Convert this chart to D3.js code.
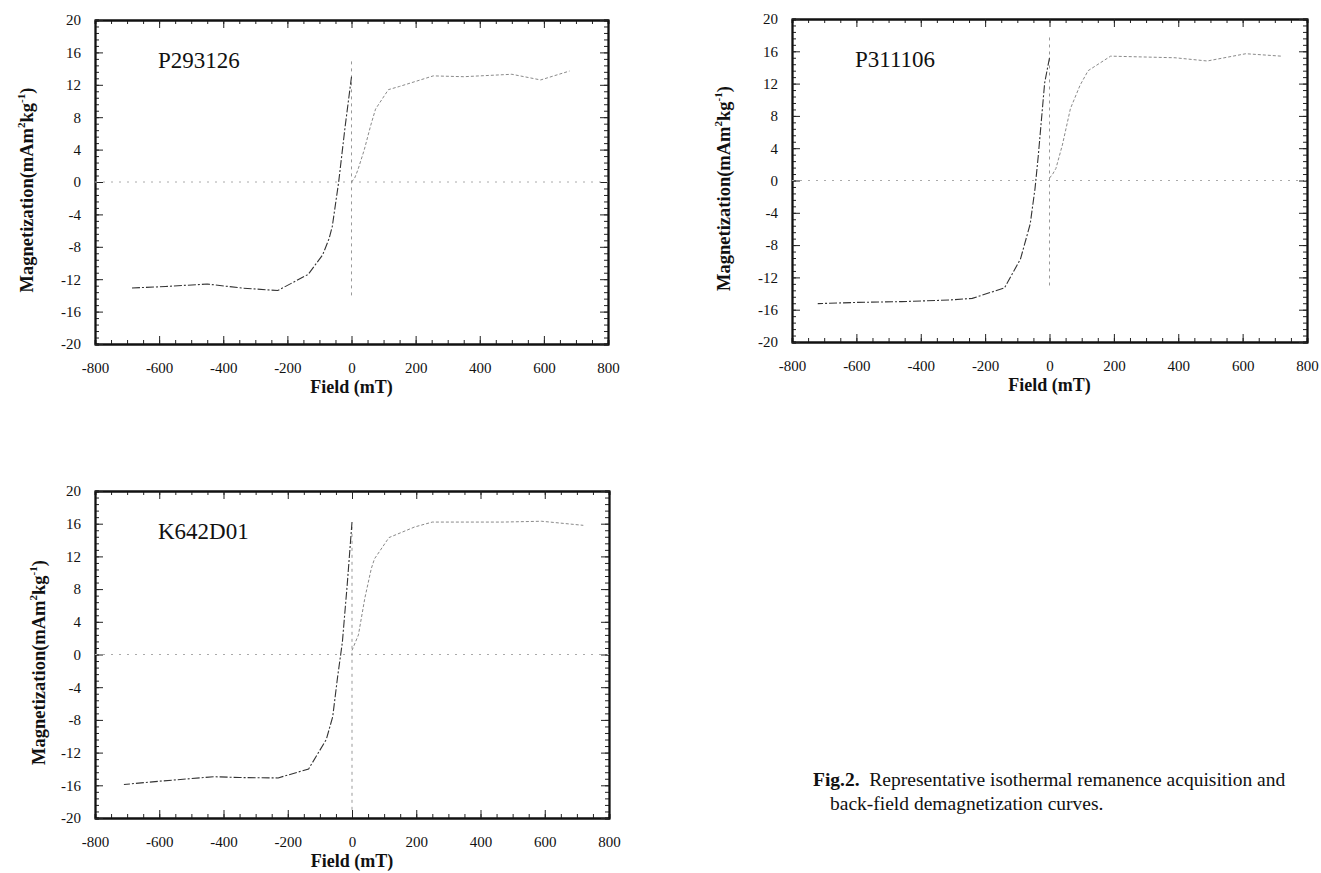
<!DOCTYPE html>
<html>
<head>
<meta charset="utf-8">
<script src="https://cdn.jsdelivr.net/npm/d3@7/dist/d3.min.js"></script>
<style>
  body { margin: 0; background: #fff; }
  svg { display: block; font-family: "Liberation Serif", "Times New Roman", serif; }
</style>
</head>
<body>
<div id="fig"></div>
<script>
var svgWidth = 1321;
var svgHeight = 873;

// axis ticks
var fieldTicks = [-800, -600, -400, -200, 0, 200, 400, 600, 800];
var magTicks = [-20, -16, -12, -8, -4, 0, 4, 8, 12, 16, 20];
var fieldMinorStep = 50;
var magMinorStep = 0.8;

var sampleNames = ["P293126", "P311106", "K642D01"];

// back-field demagnetization curves: [field (mT), magnetization]
var backP293126 = [[0, 13.0], [-20, 6.8], [-40, 0], [-60, -5.5], [-70, -7], [-90, -9], [-135, -11.4],
                   [-230, -13.4], [-340, -13.1], [-450, -12.6], [-580, -12.9], [-690, -13.1]];
var backP311106 = [[0, 15.2], [-15, 12.1], [-35, 3], [-45, -1], [-60, -5.4], [-90, -9.7], [-140, -13.3],
                   [-240, -14.6], [-310, -14.8], [-460, -15.0], [-600, -15.1], [-720, -15.25]];
var backK642D01 = [[0, 16.2], [-15, 8.5], [-30, 1.5], [-45, -2.8], [-60, -7.6], [-80, -10.4], [-135, -14.0],
                   [-230, -15.1], [-350, -15.05], [-430, -14.95], [-600, -15.5], [-710, -15.9]];

// isothermal remanence acquisition curves
var irmP293126 = [[0, 0], [10, 0.5], [20, 1.5], [40, 4], [60, 7], [75, 9], [115, 11.4], [150, 11.8],
                  [255, 13.1], [350, 13.0], [500, 13.3], [590, 12.6], [680, 13.7]];
var irmP311106 = [[0, 0.3], [10, 0.8], [20, 1.5], [40, 4.4], [65, 8.9], [95, 11.8], [120, 13.6],
                  [190, 15.4], [390, 15.2], [490, 14.8], [610, 15.7], [720, 15.4]];
var irmK642D01 = [[0, 0.5], [20, 2.4], [40, 6.9], [60, 10.5], [70, 11.7], [115, 14.3], [195, 15.6],
                  [250, 16.2], [470, 16.2], [590, 16.3], [720, 15.8]];

// span of the faint vertical zero line in each panel
var zeroSpans = [[-14, 15], [-13, 18], [-19, 16]];

var backCurves = [backP293126, backP311106, backK642D01];
var irmCurves = [irmP293126, irmP311106, irmK642D01];

var panels = [
  {left: 95, right: 608, top: 20, bottom: 344, titleX: 27},
  {left: 792, right: 1307, top: 19, bottom: 342, titleX: 724},
  {left: 95, right: 609, top: 491, bottom: 818, titleX: 39}
];

var svg = d3.select("#fig")
  .append("svg")
  .attr("width", svgWidth)
  .attr("height", svgHeight);

var fieldMinor = d3.range(-800, 801, fieldMinorStep);
var magMinor = d3.range(0, 51).map(function(i) { return -20 + i * magMinorStep; });
var plain = function(d) { return String(d); };

panels.forEach(function(p, i) {
  var x = d3.scaleLinear().domain([-800, 800]).range([p.left, p.right]);
  var y = d3.scaleLinear().domain([-20, 20]).range([p.bottom, p.top]);
  var g = svg.append("g");

  // minor ticks on all four sides, pointing in
  g.append("g").attr("transform", "translate(0," + p.bottom + ")")
    .call(d3.axisBottom(x).tickValues(fieldMinor).tickSize(-4).tickFormat(""));
  g.append("g").attr("transform", "translate(0," + p.top + ")")
    .call(d3.axisTop(x).tickValues(fieldMinor).tickSize(-4).tickFormat(""));
  g.append("g").attr("transform", "translate(" + p.left + ",0)")
    .call(d3.axisLeft(y).tickValues(magMinor).tickSize(-4).tickFormat(""));
  g.append("g").attr("transform", "translate(" + p.right + ",0)")
    .call(d3.axisRight(y).tickValues(magMinor).tickSize(-4).tickFormat(""));

  // major ticks + labels
  g.append("g")
    .attr("transform", "translate(0," + p.bottom + ")")
    .call(d3.axisBottom(x).tickValues(fieldTicks).tickFormat(plain).tickSizeInner(-8).tickSizeOuter(0).tickPadding(18));
  g.append("g")
    .attr("transform", "translate(0," + p.top + ")")
    .call(d3.axisTop(x).tickValues(fieldTicks).tickSizeInner(-8).tickSizeOuter(0).tickFormat(""));
  g.append("g")
    .attr("transform", "translate(" + p.left + ",0)")
    .call(d3.axisLeft(y).tickValues(magTicks).tickFormat(plain).tickSizeInner(-8).tickSizeOuter(0).tickPadding(14));
  g.append("g")
    .attr("transform", "translate(" + p.right + ",0)")
    .call(d3.axisRight(y).tickValues(magTicks).tickSizeInner(-8).tickSizeOuter(0).tickFormat(""));

  g.selectAll("g").attr("font-family", "'Liberation Serif', 'Times New Roman', serif").attr("font-size", 15);
  g.selectAll(".domain").attr("stroke", "#111").attr("stroke-width", 1.8);
  g.selectAll(".tick line").attr("stroke", "#222").attr("stroke-width", 1);
  g.selectAll(".tick text").attr("fill", "#111");

  // faint zero lines
  g.append("line")
    .attr("x1", x(-800)).attr("x2", x(800))
    .attr("y1", y(0)).attr("y2", y(0))
    .attr("stroke", "#aaa").attr("stroke-width", 1)
    .attr("stroke-dasharray", "2,6");
  g.append("line")
    .attr("x1", x(0)).attr("x2", x(0))
    .attr("y1", y(zeroSpans[i][0])).attr("y2", y(zeroSpans[i][1]))
    .attr("stroke", "#999").attr("stroke-width", 1)
    .attr("stroke-dasharray", "3,4");

  var line = d3.line()
    .x(function(d) { return x(d[0]); })
    .y(function(d) { return y(d[1]); });

  g.append("path")
    .datum(irmCurves[i])
    .attr("d", line)
    .attr("fill", "none")
    .attr("stroke", "#8a8a8a")
    .attr("stroke-width", 1)
    .attr("stroke-dasharray", "3,2");

  g.append("path")
    .datum(backCurves[i])
    .attr("d", line)
    .attr("fill", "none")
    .attr("stroke", "#333")
    .attr("stroke-width", 1.1)
    .attr("stroke-dasharray", "8,2,2,2");

  // sample name
  g.append("text")
    .attr("x", p.left + 63)
    .attr("y", p.top + 48)
    .style("font-size", "23px")
    .attr("fill", "#111")
    .text(sampleNames[i]);

  // axis titles
  g.append("text")
    .attr("x", x(0))
    .attr("y", p.bottom + 49)
    .attr("text-anchor", "middle")
    .style("font-size", "18px")
    .style("font-weight", "bold")
    .attr("fill", "#111")
    .text("Field (mT)");

  var yt = g.append("text")
    .attr("transform", "translate(" + p.titleX + "," + ((p.top + p.bottom) / 2 + 8) + ") rotate(-90)")
    .attr("text-anchor", "middle")
    .attr("dy", "0.35em")
    .style("font-size", "18.5px")
    .style("font-weight", "bold")
    .attr("fill", "#111");
  yt.append("tspan").text("Magnetization(mAm");
  yt.append("tspan").attr("dy", -8).style("font-size", "11px").text("2");
  yt.append("tspan").attr("dy", 8).text("kg");
  yt.append("tspan").attr("dy", -8).style("font-size", "11px").text("-1");
  yt.append("tspan").attr("dy", 8).text(")");
});

// caption
var cap = svg.append("text")
  .attr("x", 813)
  .attr("y", 786)
  .style("font-size", "19.5px")
  .attr("fill", "#111");
cap.append("tspan").style("font-weight", "bold").text("Fig.2.");
cap.append("tspan").text("\u00a0 Representative isothermal remanence acquisition and");
svg.append("text")
  .attr("x", 830)
  .attr("y", 810)
  .style("font-size", "19.5px")
  .attr("fill", "#111")
  .text("back-field demagnetization curves.");
</script>
</body>
</html>
